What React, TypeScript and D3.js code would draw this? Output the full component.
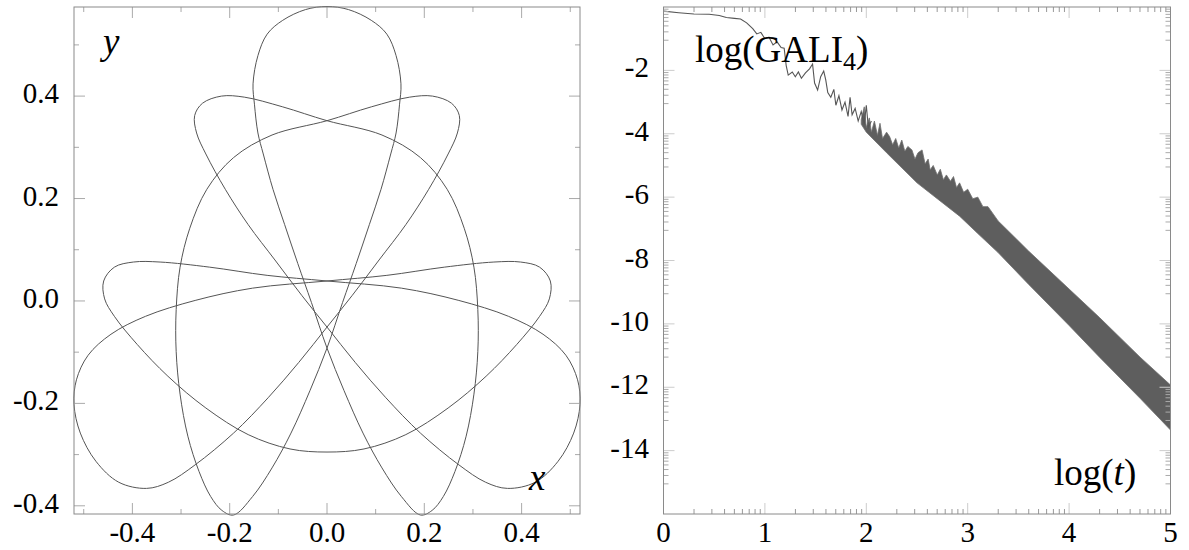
import React from 'react';
import * as d3 from 'd3';

// ---------- LEFT PANEL: orbit in (x, y) ----------
const orbitX = [
  0.000, -0.044, -0.091, -0.123, -0.142, -0.152, -0.149, -0.142, -0.131, -0.111, -0.087, -0.060, -0.032, 0.000,
  0.035, 0.074, 0.113, 0.153, 0.192, 0.216, 0.239,
  0.263, 0.286, 0.302, 0.310, 0.310, 0.302, 0.282, 0.247, 0.192, 0.113, 0.000, -0.091, -0.170, -0.217, -0.256, -0.272, -0.268,
  -0.249, -0.209, -0.162, -0.107, -0.052, 0.000, 0.058, 0.121, 0.192, 0.271, 0.326, 0.371, 0.428, 0.475, 0.507, 0.520,
  0.515, 0.491, 0.444, 0.373, 0.271, 0.153, 0.000, -0.123, -0.241, -0.343, -0.398, -0.437, -0.459, -0.457,
  -0.437, -0.390, -0.327, -0.249, -0.162, -0.076, 0.000, 0.076, 0.162, 0.249, 0.327, 0.390, 0.437,
  0.457, 0.459, 0.437, 0.398, 0.343, 0.241, 0.123, 0.000, -0.153, -0.271, -0.373, -0.444, -0.491, -0.515,
  -0.520, -0.507, -0.475, -0.428, -0.371, -0.326, -0.271, -0.192, -0.121, -0.058, 0.000, 0.052, 0.107, 0.162, 0.209, 0.249,
  0.268, 0.272, 0.256, 0.217, 0.170, 0.091, 0.000, -0.113, -0.192, -0.247, -0.282, -0.302, -0.310, -0.310, -0.302, -0.286, -0.263,
  -0.239, -0.216, -0.192, -0.153, -0.113, -0.074, -0.035, 0.000, 0.032, 0.060, 0.087, 0.111, 0.131, 0.142, 0.149, 0.152, 0.142,
  0.123, 0.091, 0.044,
];
const orbitY = [
  0.575, 0.569, 0.548, 0.521, 0.479, 0.424, 0.383, 0.328, 0.287, 0.218, 0.149, 0.073, -0.003, -0.092,
  -0.175, -0.258, -0.326, -0.382, -0.418, -0.409, -0.382,
  -0.333, -0.264, -0.182, -0.099, -0.017, 0.066, 0.142, 0.218, 0.280, 0.324, 0.352, 0.379, 0.398, 0.400, 0.386, 0.362, 0.328,
  0.287, 0.218, 0.149, 0.080, 0.011, -0.051, -0.120, -0.189, -0.258, -0.320, -0.354, -0.366, -0.354, -0.313, -0.258, -0.202,
  -0.154, -0.106, -0.065, -0.030, 0.001, 0.025, 0.039, 0.050, 0.066, 0.076, 0.076, 0.066, 0.039, 0.004,
  -0.030, -0.085, -0.147, -0.209, -0.261, -0.289, -0.295, -0.289, -0.261, -0.209, -0.147, -0.085, -0.030,
  0.004, 0.039, 0.066, 0.076, 0.076, 0.066, 0.050, 0.039, 0.025, 0.001, -0.030, -0.065, -0.106, -0.154,
  -0.202, -0.258, -0.313, -0.354, -0.366, -0.354, -0.320, -0.258, -0.189, -0.120, -0.051, 0.011, 0.080, 0.149, 0.218, 0.287,
  0.328, 0.362, 0.386, 0.400, 0.398, 0.379, 0.352, 0.324, 0.280, 0.218, 0.142, 0.066, -0.017, -0.099, -0.182, -0.264, -0.333,
  -0.382, -0.409, -0.418, -0.382, -0.326, -0.258, -0.175, -0.092, -0.003, 0.073, 0.149, 0.218, 0.287, 0.328, 0.383, 0.424, 0.479,
  0.521, 0.548, 0.569,
];
const xTicksLeft = [-0.4, -0.2, 0.0, 0.2, 0.4];
const xMinorLeft = [-0.5, -0.3, -0.1, 0.1, 0.3, 0.5];
const yTicksLeft = [-0.4, -0.2, 0.0, 0.2, 0.4];
const yMinorLeft = [-0.3, -0.1, 0.1, 0.3, 0.5];
const xTickLabelsLeft = ['-0.4', '-0.2', '0.0', '0.2', '0.4'];
const yTickLabelsLeft = ['-0.4', '-0.2', '0.0', '0.2', '0.4'];

// ---------- RIGHT PANEL: log(GALI4) vs log(t) ----------
const galiLogT = [
  0.00, 0.15, 0.30, 0.45, 0.55, 0.62, 0.70, 0.76, 0.82, 0.88, 0.92, 0.96, 1.00, 1.04, 1.08, 1.12, 1.16, 1.19,
  1.21, 1.23, 1.27, 1.30, 1.33, 1.36, 1.40, 1.44, 1.47, 1.49, 1.52, 1.55, 1.58, 1.60, 1.62, 1.65, 1.68, 1.70,
  1.73, 1.76, 1.79, 1.82, 1.84, 1.86, 1.89, 1.92, 1.95, 1.98, 2.00, 2.02, 2.05,
];
const galiLogV = [
  -0.13, -0.18, -0.22, -0.23, -0.27, -0.33, -0.36, -0.38, -0.50, -0.68, -0.85, -0.80, -1.00, -0.95, -1.20, -1.10, -1.28, -1.30,
  -1.85, -2.15, -2.05, -2.20, -2.05, -2.25, -2.08, -1.95, -1.80, -2.40, -2.62, -2.20, -2.02, -2.30, -2.70, -2.85, -2.60, -3.10,
  -2.80, -3.25, -3.00, -3.45, -2.85, -3.40, -3.20, -3.60, -3.30, -3.70, -3.10, -3.80, -3.60,
];
// upper edge of the dense oscillation band
const bandUpperT = [
  1.95, 1.98, 2.00, 2.03, 2.05, 2.08, 2.11, 2.135, 2.16, 2.20, 2.23, 2.26, 2.29, 2.32, 2.35, 2.38, 2.41, 2.45, 2.48,
  2.51, 2.55, 2.58, 2.61, 2.63, 2.66, 2.70, 2.73, 2.76, 2.79, 2.83, 2.86, 2.89, 2.92, 2.96, 3.00, 3.05, 3.10, 3.15,
  3.20, 3.30, 3.60, 4.00, 4.30, 4.70, 5.00,
];
const bandUpperV = [
  -3.55, -3.15, -3.80, -3.50, -3.95, -3.60, -4.05, -3.67, -4.15, -3.95, -4.09, -4.35, -4.15, -4.45, -4.20, -4.55, -4.40,
  -4.51, -4.80, -4.60, -4.51, -4.95, -4.80, -5.14, -5.00, -5.30, -5.12, -5.45, -5.30, -5.50, -5.35, -5.70, -5.55, -5.85,
  -5.75, -6.05, -6.00, -6.30, -6.30, -6.75, -7.70, -8.90, -9.80, -11.05, -11.93,
];
// lower edge of the band
const bandLowerT = [1.95, 2.00, 2.20, 2.50, 2.70, 2.92, 3.10, 3.30, 3.60, 4.00, 4.30, 4.70, 5.00];
const bandLowerV = [-3.70, -3.95, -4.60, -5.55, -6.05, -6.60, -7.15, -7.75, -8.75, -10.05, -11.05, -12.35, -13.35];
const xTicksRight = [0, 1, 2, 3, 4, 5];
const yTicksRight = [-2, -4, -6, -8, -10, -12, -14];

const W = 1189, H = 550;
const FONT = "'Liberation Serif', 'Times New Roman', serif";
const FRAME = '#8a8a8a';
const TICK = '#aaaaaa';
const LINE = '#555555';

const L = { x0: 74, x1: 580, y0: 7, y1: 514 };
const R = { x0: 663.5, x1: 1170.5, y0: 7, y1: 514 };

export default function App() {
  const xl = d3.scaleLinear().domain([-0.52, 0.52]).range([L.x0, L.x1]);
  const yl = d3.scaleLinear().domain([-0.416, 0.574]).range([L.y1, L.y0]);
  const xr = d3.scaleLinear().domain([0, 5]).range([R.x0, R.x1]);
  const yr = d3.scaleLinear().domain([-16, 0]).range([R.y1, R.y0]);

  const orbit = orbitX.map((x, i) => [x, orbitY[i]] as [number, number]);
  const orbitPath = d3.line<[number, number]>()
    .x(d => xl(d[0])).y(d => yl(d[1]))
    .curve(d3.curveCatmullRomClosed.alpha(0.5))(orbit) || '';

  const gali = galiLogT.map((t, i) => [t, galiLogV[i]] as [number, number]);
  const galiPath = d3.line<[number, number]>().x(d => xr(d[0])).y(d => yr(d[1]))(gali) || '';
  const bandPts: [number, number][] = [
    ...bandUpperT.map((t, i) => [t, bandUpperV[i]] as [number, number]),
    ...bandLowerT.map((t, i) => [t, bandLowerV[i]] as [number, number]).reverse(),
  ];
  const bandPath = d3.line<[number, number]>().x(d => xr(d[0])).y(d => yr(d[1]))
    .curve(d3.curveLinearClosed)(bandPts) || '';

  const logMinorX: number[] = [];
  for (let k = 0; k < 5; k++) for (let m = 2; m <= 9; m++) logMinorX.push(k + Math.log10(m));
  const logMinorY: number[] = [];
  for (let k = 0; k <= 7; k++) for (let m = 2; m <= 9; m++) {
    const v = -2 * k - 1.5 * (1 - Math.log10(m));
    if (v > -16) logMinorY.push(v);
  }

  const tickEls: React.ReactNode[] = [];
  xTicksLeft.forEach((v, i) => {
    const x = xl(v);
    tickEls.push(<line key={'lxt' + i} x1={x} x2={x} y1={L.y1} y2={L.y1 - 11} stroke={TICK} />);
    tickEls.push(<line key={'lxtt' + i} x1={x} x2={x} y1={L.y0} y2={L.y0 + 11} stroke={TICK} />);
  });
  xMinorLeft.forEach((v, i) => {
    const x = xl(v);
    tickEls.push(<line key={'lxm' + i} x1={x} x2={x} y1={L.y1} y2={L.y1 - 5} stroke={TICK} />);
    tickEls.push(<line key={'lxmt' + i} x1={x} x2={x} y1={L.y0} y2={L.y0 + 5} stroke={TICK} />);
  });
  yTicksLeft.forEach((v, i) => {
    const y = yl(v);
    tickEls.push(<line key={'lyt' + i} x1={L.x0} x2={L.x0 + 11} y1={y} y2={y} stroke={TICK} />);
    tickEls.push(<line key={'lytr' + i} x1={L.x1} x2={L.x1 - 11} y1={y} y2={y} stroke={TICK} />);
  });
  yMinorLeft.forEach((v, i) => {
    const y = yl(v);
    tickEls.push(<line key={'lym' + i} x1={L.x0} x2={L.x0 + 5} y1={y} y2={y} stroke={TICK} />);
    tickEls.push(<line key={'lymr' + i} x1={L.x1} x2={L.x1 - 5} y1={y} y2={y} stroke={TICK} />);
  });
  xTicksRight.slice(1, -1).forEach((v, i) => {
    const x = xr(v);
    tickEls.push(<line key={'rxt' + i} x1={x} x2={x} y1={R.y1} y2={R.y1 - 11} stroke={'#cccccc'} />);
    tickEls.push(<line key={'rxtt' + i} x1={x} x2={x} y1={R.y0} y2={R.y0 + 11} stroke={'#cccccc'} />);
  });
  logMinorX.forEach((v, i) => {
    const x = xr(v);
    tickEls.push(<line key={'rxm' + i} x1={x} x2={x} y1={R.y1} y2={R.y1 - 5} stroke={'#999999'} />);
    tickEls.push(<line key={'rxmt' + i} x1={x} x2={x} y1={R.y0} y2={R.y0 + 5} stroke={'#999999'} />);
  });
  yTicksRight.forEach((v, i) => {
    const y = yr(v);
    tickEls.push(<line key={'ryt' + i} x1={R.x0} x2={R.x0 + 11} y1={y} y2={y} stroke={'#cccccc'} />);
    tickEls.push(<line key={'rytr' + i} x1={R.x1} x2={R.x1 - 11} y1={y} y2={y} stroke={'#cccccc'} />);
  });
  logMinorY.forEach((v, i) => {
    const y = yr(v);
    tickEls.push(<line key={'rym' + i} x1={R.x0} x2={R.x0 + 5} y1={y} y2={y} stroke={'#aaaaaa'} />);
    tickEls.push(<line key={'rymr' + i} x1={R.x1} x2={R.x1 - 5} y1={y} y2={y} stroke={'#aaaaaa'} />);
  });

  return (
    <svg width={W} height={H} style={{ position: 'absolute', left: 0, top: 0, background: '#fff' }}>
      <rect x={0} y={0} width={W} height={H} fill="#fff" />
      <path d={orbitPath} fill="none" stroke={LINE} strokeWidth={1} />
      <path d={bandPath} fill="#5e5e5e" stroke="#6e6e6e" strokeWidth={0.8} />
      <path d={galiPath} fill="none" stroke={LINE} strokeWidth={1.1} />
      {tickEls}
      <rect x={L.x0} y={L.y0} width={L.x1 - L.x0} height={L.y1 - L.y0} fill="none" stroke={FRAME} strokeWidth={1} />
      <rect x={R.x0} y={R.y0} width={R.x1 - R.x0} height={R.y1 - R.y0} fill="none" stroke={FRAME} strokeWidth={1} />
      <g fontFamily={FONT} fontSize={29} fill="#000">
        {xTicksLeft.map((v, i) => (
          <text key={'lxl' + i} x={xl(v)} y={542} textAnchor="middle">{xTickLabelsLeft[i]}</text>
        ))}
        {yTicksLeft.map((v, i) => (
          <text key={'lyl' + i} x={59} y={yl(v) + 7} textAnchor="end">{yTickLabelsLeft[i]}</text>
        ))}
        {xTicksRight.map((v, i) => (
          <text key={'rxl' + i} x={xr(v)} y={542} textAnchor="middle">{String(v)}</text>
        ))}
        {yTicksRight.map((v, i) => (
          <text key={'ryl' + i} x={649} y={yr(v) + 7} textAnchor="end">{String(v)}</text>
        ))}
      </g>
      <g fontFamily={FONT} fontSize={37} fill="#000">
        <text x={103} y={54} fontStyle="italic">y</text>
        <text x={529} y={490} fontStyle="italic">x</text>
        <text x={695} y={62}>log(GALI<tspan fontSize={26} dy={8}>4</tspan><tspan dy={-8}>)</tspan></text>
        <text x={1054} y={485}>log(<tspan fontStyle="italic">t</tspan>)</text>
      </g>
    </svg>
  );
}
